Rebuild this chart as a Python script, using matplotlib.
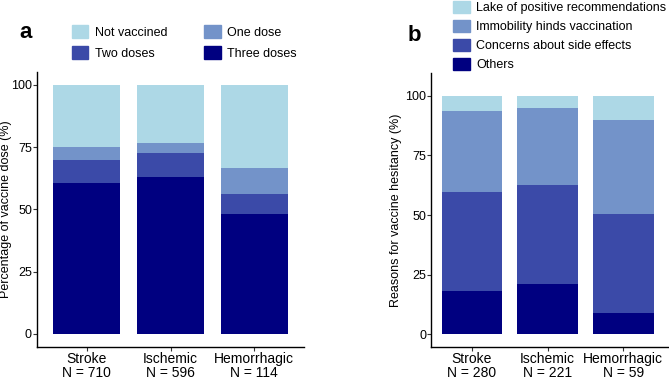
import numpy as np
import matplotlib
matplotlib.use("Agg")
import matplotlib.pyplot as plt
from matplotlib.patches import Patch

plt.rcParams['font.family'] = ['Liberation Sans', 'DejaVu Sans']

# panel a data
groups_a = ['Stroke\nN = 710', 'Ischemic\nN = 596', 'Hemorrhagic\nN = 114']
three_doses = [60.6, 62.9, 48.2]
two_doses = [9.4, 9.6, 7.9]
one_dose = [5.2, 4.3, 10.4]
not_vaccined = [24.8, 23.2, 33.5]

# panel b data
groups_b = ['Stroke\nN = 280', 'Ischemic\nN = 221', 'Hemorrhagic\nN = 59']
others = [18.2, 21.2, 8.9]
side_effects = [41.6, 41.6, 41.6]
immobility = [33.8, 32.0, 39.5]
lake_recommend = [6.4, 5.2, 10.0]

c_light = '#ADD8E6'
c_mid = '#7393C9'
c_dark = '#3B4AA8'
c_navy = '#000080'

W, H = 669, 379
fig = plt.figure(figsize=(W / 100, H / 100), dpi=100)
FS = 9


def px_axes(x0, y0, x1, y1):
    return fig.add_axes([x0 / W, 1 - y1 / H, (x1 - x0) / W, (y1 - y0) / H])


def stack(ax, series, colors):
    x = np.arange(1, 4)
    bottom = np.zeros(3)
    for vals, col in zip(series, colors):
        ax.bar(x, vals, width=0.8, bottom=bottom, color=col, linewidth=0)
        bottom += np.array(vals)


def style(ax, labels, ylabel, ylim, xlim, label_x):
    ax.set_xlim(*xlim)
    ax.set_ylim(*ylim)
    ax.set_xticks([1, 2, 3])
    ax.set_xticklabels(labels, fontsize=10, color='black', linespacing=0.95)
    ax.set_yticks([0, 25, 50, 75, 100])
    ax.tick_params(axis='both', length=2.6, width=0.8, color='#333333',
                   labelsize=FS, labelcolor='black')
    ax.tick_params(axis='x', labelsize=10, pad=1.5)
    ax.tick_params(axis='y', pad=0.8)
    for s in ['top', 'right']:
        ax.spines[s].set_visible(False)
    for s in ['left', 'bottom']:
        ax.spines[s].set_linewidth(1.0)
        ax.spines[s].set_color('black')
    ax.set_ylabel(ylabel, fontsize=FS)
    ax.yaxis.set_label_coords(label_x, 0.5)


ax1 = px_axes(36.7, 71.7, 304.3, 346.7)
stack(ax1, [three_doses, two_doses, one_dose, not_vaccined],
      [c_navy, c_dark, c_mid, c_light])
style(ax1, groups_a, 'Percentage of vaccine dose (%)', (-5.1, 105.3), (0.4, 3.6),
      (12 - 36.7) / (304.3 - 36.7))

ax2 = px_axes(431, 73.3, 668, 346.7)
stack(ax2, [others, side_effects, immobility, lake_recommend],
      [c_navy, c_dark, c_mid, c_light])
style(ax2, groups_b, 'Reasons for vaccine hesitancy (%)', (-5.3, 109.5), (0.46, 3.59),
      (401.5 - 431) / (668 - 431))

fig.text(19 / W, 1 - 37.7 / H, 'a', fontsize=16, fontweight='bold', va='baseline')
fig.text(407.7 / W, 1 - 40.7 / H, 'b', fontsize=16, fontweight='bold', va='baseline')

handles_a = [Patch(color=c_light, label='Not vaccined'),
             Patch(color=c_dark, label='Two doses'),
             Patch(color=c_mid, label='One dose'),
             Patch(color=c_navy, label='Three doses')]
fig.legend(handles=handles_a, ncol=2, loc='upper left',
           bbox_to_anchor=(71.7 / W, 1 - 25 / H), frameon=False, fontsize=FS,
           borderpad=0, borderaxespad=0, handlelength=1.33, handleheight=1.28,
           handletextpad=0.55, labelspacing=0.55, columnspacing=2.9)

handles_b = [Patch(color=c_light, label='Lake of positive recommendations'),
             Patch(color=c_mid, label='Immobility hinds vaccination'),
             Patch(color=c_dark, label='Concerns about side effects'),
             Patch(color=c_navy, label='Others')]
fig.legend(handles=handles_b, ncol=1, loc='upper left',
           bbox_to_anchor=(453.3 / W, 1 - 0.5 / H), frameon=False, fontsize=FS,
           borderpad=0, borderaxespad=0, handlelength=1.33, handleheight=1.14,
           handletextpad=0.5, labelspacing=0.45)

fig.savefig('out.png', dpi=100)
